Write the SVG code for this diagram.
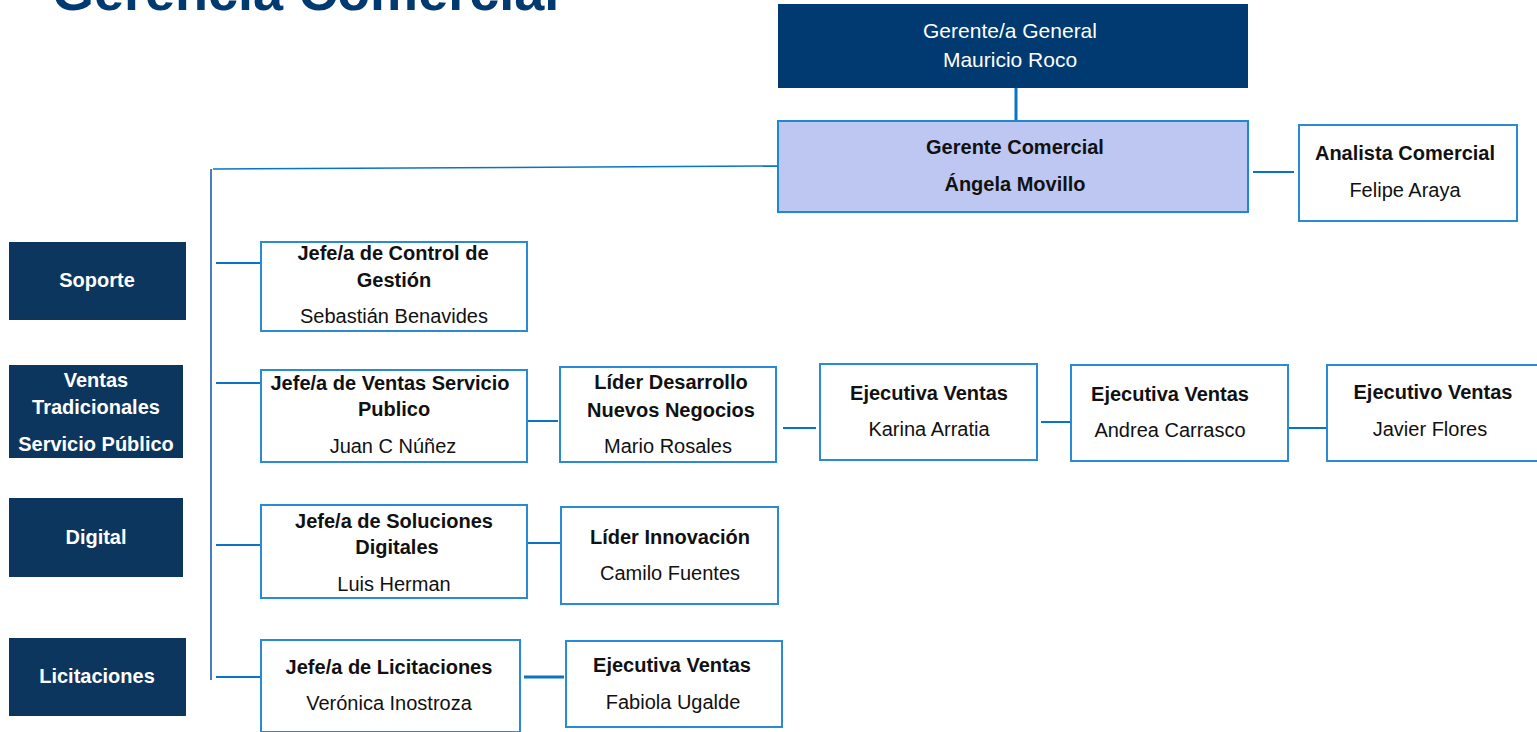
<svg xmlns="http://www.w3.org/2000/svg" width="1537" height="732" viewBox="0 0 1537 732">
<style>
text{font-family:"Liberation Sans",Arial,sans-serif;font-size:20px;text-anchor:middle;fill:#111}
.b{font-weight:bold}
.w{fill:#fff}
.box{fill:#fff;stroke:#2a8ad6;stroke-width:2}
.dark{fill:#0c365e}
.ln{stroke:#0a74c4;stroke-width:2;fill:none}
.title{font-size:54px;font-weight:bold;fill:#003a70;text-anchor:start}
</style>
<rect width="1537" height="732" fill="#fff"/>
<text class="title" x="52" y="10">Gerencia Comercial</text>

<g id="connectors">
<line class="ln" x1="1016" y1="88" x2="1016" y2="121" style="stroke-width:3"/>
<line class="ln" x1="1253" y1="172" x2="1294" y2="172"/>
<line class="ln" x1="213" y1="169" x2="783" y2="166" style="stroke-width:1.5"/>
<line x1="211" y1="169" x2="211" y2="680" stroke="#4a7cc0" stroke-width="2"/>
<line class="ln" x1="216" y1="263" x2="260" y2="263"/>
<line class="ln" x1="216" y1="383" x2="260" y2="383"/>
<line class="ln" x1="216" y1="545" x2="260" y2="545"/>
<line class="ln" x1="216" y1="677" x2="260" y2="677"/>
<line class="ln" x1="528" y1="421" x2="558" y2="421"/>
<line class="ln" x1="528" y1="543" x2="560" y2="543"/>
<line class="ln" x1="524" y1="677" x2="564" y2="677" style="stroke-width:3"/>
<line class="ln" x1="783" y1="428" x2="816" y2="428"/>
<line class="ln" x1="1041" y1="422" x2="1070" y2="422"/>
<line class="ln" x1="1285" y1="428" x2="1326" y2="428"/>
</g>

<g id="gerente-general">
<rect x="778" y="4" width="470" height="84" fill="#003a70"/>
<text class="w" x="1010" y="38" style="font-size:21px">Gerente/a General</text>
<text class="w" x="1010" y="67" style="font-size:21px">Mauricio Roco</text>
</g>

<g id="gerente-comercial">
<rect x="778" y="121" width="470" height="91" fill="#bdc7f2" stroke="#1f88d6" stroke-width="2"/>
<text class="b" x="1015" y="154">Gerente Comercial</text>
<text class="b" x="1015" y="191">Ángela Movillo</text>
</g>

<g id="analista-comercial">
<rect class="box" x="1299" y="125" width="218" height="96"/>
<text class="b" x="1405" y="160">Analista Comercial</text>
<text x="1405" y="197">Felipe Araya</text>
</g>

<g id="area-soporte">
<rect class="dark" x="9" y="242" width="177" height="78"/>
<text class="b w" x="97" y="287">Soporte</text>
</g>
<g id="area-ventas">
<rect class="dark" x="9" y="365" width="174" height="93"/>
<text class="b w" x="96" y="387">Ventas</text>
<text class="b w" x="96" y="414">Tradicionales</text>
<text class="b w" x="96" y="451">Servicio Público</text>
</g>
<g id="area-digital">
<rect class="dark" x="9" y="498" width="174" height="79"/>
<text class="b w" x="96" y="544">Digital</text>
</g>
<g id="area-licitaciones">
<rect class="dark" x="9" y="638" width="177" height="78"/>
<text class="b w" x="97" y="683">Licitaciones</text>
</g>

<g id="jefe-control">
<rect class="box" x="261" y="242" width="266" height="89"/>
<text class="b" x="393" y="260">Jefe/a de Control de</text>
<text class="b" x="394" y="287">Gestión</text>
<text x="394" y="323">Sebastián Benavides</text>
</g>
<g id="jefe-ventas">
<rect class="box" x="261" y="370" width="266" height="92"/>
<text class="b" x="390" y="390">Jefe/a de Ventas Servicio</text>
<text class="b" x="394" y="416">Publico</text>
<text x="393" y="453">Juan C Núñez</text>
</g>
<g id="jefe-soluciones">
<rect class="box" x="261" y="505" width="266" height="93"/>
<text class="b" x="394" y="528">Jefe/a de Soluciones</text>
<text class="b" x="397" y="554">Digitales</text>
<text x="394" y="591">Luis Herman</text>
</g>
<g id="jefe-licitaciones">
<rect class="box" x="261" y="640" width="259" height="92"/>
<text class="b" x="389" y="674">Jefe/a de Licitaciones</text>
<text x="389" y="710">Verónica Inostroza</text>
</g>

<g id="lider-desarrollo">
<rect class="box" x="560" y="367" width="216" height="95"/>
<text class="b" x="671" y="389">Líder Desarrollo</text>
<text class="b" x="671" y="417">Nuevos Negocios</text>
<text x="668" y="453">Mario Rosales</text>
</g>
<g id="lider-innovacion">
<rect class="box" x="561" y="507" width="217" height="97"/>
<text class="b" x="670" y="544">Líder Innovación</text>
<text x="670" y="580">Camilo Fuentes</text>
</g>
<g id="ejecutiva-fabiola">
<rect class="box" x="566" y="641" width="216" height="86"/>
<text class="b" x="672" y="672">Ejecutiva Ventas</text>
<text x="673" y="709">Fabiola Ugalde</text>
</g>

<g id="ejecutiva-karina">
<rect class="box" x="820" y="364" width="217" height="96"/>
<text class="b" x="929" y="400">Ejecutiva Ventas</text>
<text x="929" y="436">Karina Arratia</text>
</g>
<g id="ejecutiva-andrea">
<rect class="box" x="1071" y="365" width="217" height="96"/>
<text class="b" x="1170" y="401">Ejecutiva Ventas</text>
<text x="1170" y="437">Andrea Carrasco</text>
</g>
<g id="ejecutivo-javier">
<rect class="box" x="1327" y="365" width="215" height="96"/>
<text class="b" x="1433" y="399">Ejecutivo Ventas</text>
<text x="1430" y="436">Javier Flores</text>
</g>
</svg>
